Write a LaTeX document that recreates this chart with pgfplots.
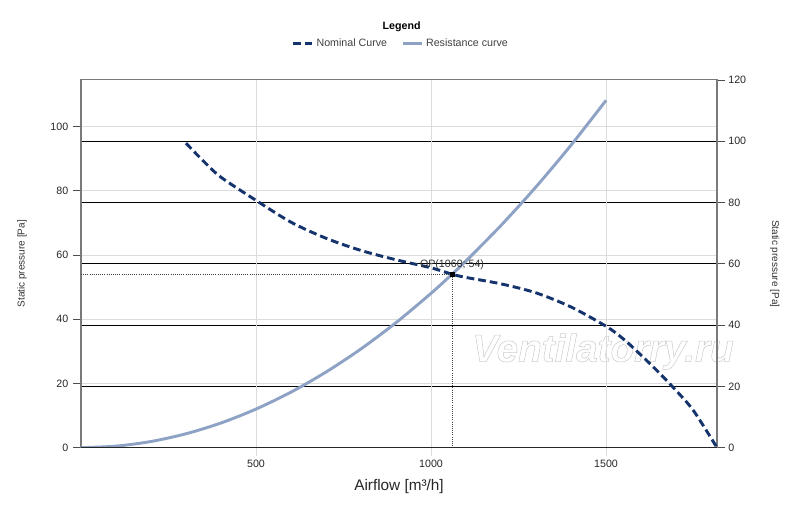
\documentclass[border=0pt]{standalone}
\usepackage{fontspec}
\setmainfont{Liberation Sans}
\usepackage{pgfplots}
\pgfplotsset{compat=1.18}
\definecolor{nomc}{HTML}{15346E}
\definecolor{resc}{HTML}{8EA2C5}
\definecolor{gridg}{HTML}{DCDCDC}
\definecolor{axg}{HTML}{7A7A7A}
\begin{document}
\begin{tikzpicture}
\useasboundingbox (0,0) rectangle (600pt,380.25pt);
% watermark
\node[font=\fontsize{29}{29}\selectfont\bfseries\itshape, text=gray!40] at (452.25pt,116.5pt) {\special{pdf:literal direct 1 Tr 0.4 w}Ventilatorry.ru\special{pdf:literal direct 0 Tr}};
% right axis: black grid lines
\begin{axis}[
  at={(60.75pt,44.5pt)}, anchor=south west,
  scale only axis, width=477pt, height=275.8pt,
  xmin=0, xmax=1817, ymin=0, ymax=120,
  axis x line=none,
  axis y line*=right,
  y axis line style={axg, line width=0.8pt, -},
  ytick={0,20,...,100},
  extra y ticks={120},
  extra y tick style={grid=none},
  ymajorgrids,
  major grid style={black, line width=0.6pt},
  tick align=outside, major tick length=6pt,
  y tick style={black!70, line width=0.6pt},
  yticklabel style={font=\fontsize{8}{9.6}\selectfont, text=black!85, xshift=-1pt},
  /pgf/number format/assume math mode=true,
  ylabel={Static pressure [Pa]},
  every axis y label/.style={at={(axis description cs:1,0.5)}, xshift=43.3pt, anchor=center, rotate=-90, font=\fontsize{7.5}{9}\selectfont, text=black!80},
]
\end{axis}
% main axis
\begin{axis}[
  name=main,
  at={(60.75pt,44.5pt)}, anchor=south west,
  scale only axis, width=477pt, height=275.8pt,
  xmin=0, xmax=1817, ymin=0, ymax=114.5,
  axis line style={axg, line width=0.8pt},
  xtick={500,1000,1500},
  ytick={0,20,...,100},
  xtick pos=bottom, ytick pos=left,
  xmajorgrids, ymajorgrids,
  major grid style={gridg, line width=0.6pt},
  tick align=outside, major tick length=6pt,
  x tick style={gridg, line width=0.6pt},
  y tick style={black!70, line width=0.6pt},
  ticklabel style={font=\fontsize{8}{9.6}\selectfont, text=black!85},
  /pgf/number format/assume math mode=true,
  /pgf/number format/1000 sep={},
  xlabel={Airflow [m³/h]},
  every axis x label/.style={at={(axis description cs:0.5,0)}, anchor=base, yshift=-32.25pt, font=\fontsize{11.5}{13}\selectfont, text=black!85},
  ylabel={Static pressure [Pa]},
  every axis y label/.style={at={(axis description cs:0,0.5)}, xshift=-44.25pt, anchor=center, rotate=90, font=\fontsize{7.5}{9}\selectfont, text=black!80},
  legend style={at={(axis description cs:0.3313,1.0998)}, anchor=west, draw=none, fill=none, inner sep=0pt,
    font=\fontsize{8}{9.6}\selectfont, text=black!75,
    /tikz/every even column/.append style={column sep=8.8pt}},
  legend columns=2,
  legend image code/.code={\draw[#1] (0pt,0pt) -- (14.25pt,0pt);},
]
\addplot[nomc, line width=2.2pt, dash pattern=on 5.8pt off 3pt, smooth] coordinates {
(300,94.8) (350,89.2) (400,84.2) (500,77.0) (600,70.2) (700,65.2) (800,61.4)
(900,58.5) (1000,56.0) (1060,54.0) (1100,53.0) (1200,51.0) (1300,48.2)
(1400,43.8) (1500,37.8) (1550,33.8) (1600,28.8) (1650,23.5) (1700,17.8)
(1750,11.5) (1817,0)
};
\addlegendentry{Nominal Curve}
\addplot[resc, line width=2.2pt, smooth] coordinates {
(0,0) (100,0.48) (200,1.92) (300,4.33) (400,7.69) (500,12.02) (600,17.30)
(700,23.55) (800,30.76) (900,38.93) (1000,48.06) (1060,54.0) (1100,58.15)
(1200,69.21) (1300,81.22) (1400,94.20) (1500,108.14)
};
\addlegendentry{Resistance curve}
\addplot[black!75, line width=0.6pt, densely dotted, forget plot] coordinates {(0,54) (1060,54) (1060,0)};
\addplot[only marks, mark=square*, mark size=1.6pt, black, forget plot] coordinates {(1060,54)};
\node[anchor=base, yshift=5.25pt, font=\fontsize{8}{9.6}\selectfont, text=black!80] at (axis cs:1060,54) {OP(1060; 54)};
\end{axis}
\draw[black!85, line width=0.8pt] (main.south west) -- (main.south east);
\node[font=\fontsize{8}{9.6}\selectfont\bfseries] at ([xshift=240.5pt, yshift=40pt]main.north west) {Legend};
\end{tikzpicture}
\end{document}
